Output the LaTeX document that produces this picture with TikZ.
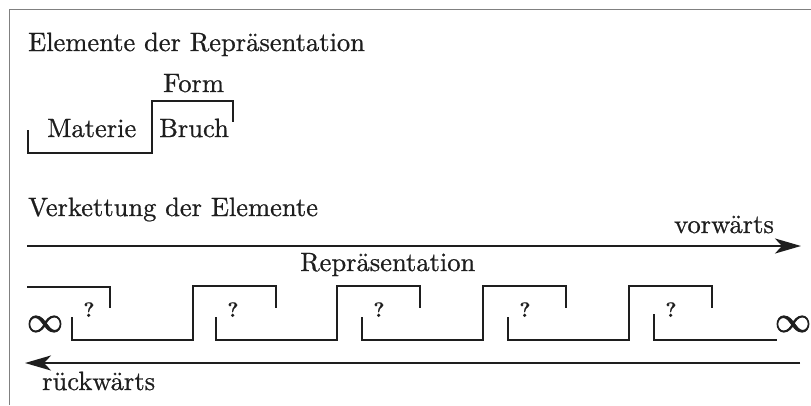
\documentclass[tikz,border=0pt]{standalone}
\usepackage{fontspec}
\usetikzlibrary{arrows.meta}
\newfontfamily\labelfont{lmroman10-regular.otf}[FakeBold=0.7]
\newfontfamily\qfont{lmroman10-bold.otf}[FakeBold=0.5]
\newfontfamily\inffont{latinmodern-math.otf}[FakeBold=2.5]
\definecolor{ink}{RGB}{30,30,30}
\begin{document}
\begin{tikzpicture}[x=1pt,y=-1pt,
  lbl/.style={inner sep=0pt, anchor=base west, text=ink, font=\labelfont\fontsize{26.5}{30}\selectfont},
  qmark/.style={inner sep=0pt, anchor=base, text=ink, font=\qfont\fontsize{21}{24}\selectfont},
  inf/.style={inner sep=0pt, text=ink, font=\inffont\fontsize{36}{38}\selectfont},
  stair/.style={draw=ink, line width=2pt, line join=miter},
  flow/.style={draw=ink, line width=2.6pt, -{Stealth[length=26pt,width=15pt,inset=7pt]}}]
\useasboundingbox (0,0) rectangle (811,405);
% frame
\draw[gray, line width=1pt] (9,405) -- (9,9) -- (811,9);

% elements of the representation
\node[lbl] (title1) at (28,51) {Elemente der Repräsentation};
\node[lbl] (form) at (163,92) {Form};
\node[lbl] (materie) at (47,137) {Materie};
\node[lbl] (bruch) at (159,137) {Bruch};
\draw[stair] (28,130) -- (28,153) -- (152,153) -- (152,101) -- (233,101) -- (233,122);

% chaining of the elements
\node[lbl] (title2) at (28,216) {Verkettung der Elemente};
\node[lbl] (vor) at (674,233) {vorwärts};
\node[lbl] (repr) at (300,271) {Repräsentation};
\node[lbl] (rueck) at (42,390) {rückwärts};

\coordinate (fwdA) at (27,246);
\coordinate (fwdB) at (801,246);
\coordinate (bwdA) at (800,363);
\coordinate (bwdB) at (25,363);
\draw[flow] (fwdA) -- (fwdB);
\draw[flow] (bwdA) -- (bwdB);

% open start of the chain
\draw[stair] (27,287) -- (110,287) -- (110,308);
\node[inf] (infL) at (45,324) {∞};
\node[inf] (infR) at (793,324) {∞};

% repeating elements
\foreach \s [count=\i] in {72,216,362,508,654} {
  \node[qmark] (q\i) at (\s+17,317) {?};
}
\foreach \s in {72,216,362,508} {
  \draw[stair] (\s,317) -- (\s,340) -- (\s+121,340) -- (\s+121,286) -- (\s+204,286) -- (\s+204,308);
}
\draw[stair] (654,314) -- (654,340) -- (777,340);
\end{tikzpicture}
\end{document}
